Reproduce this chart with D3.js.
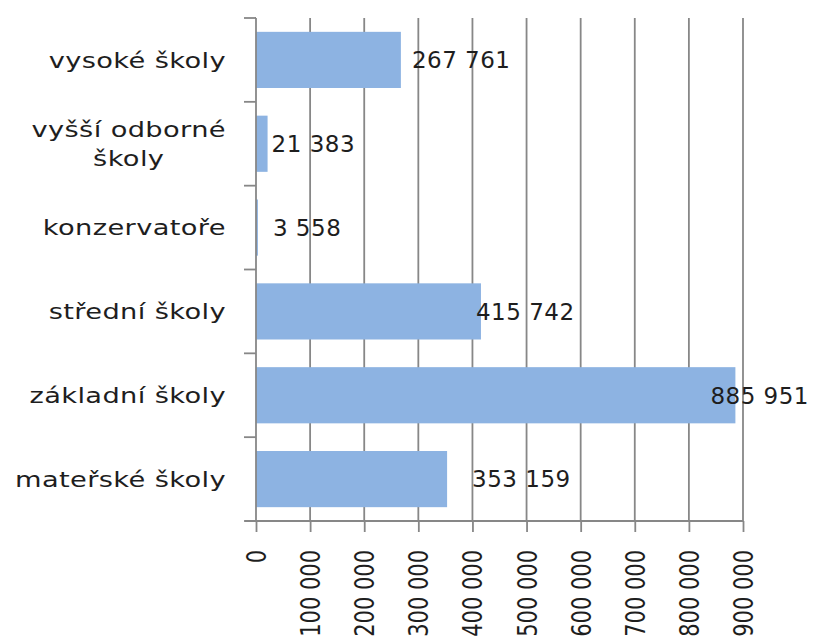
<!DOCTYPE html>
<meta charset="utf-8">
<style>
body { margin: 0; background: #fff; }
.grid line { stroke: #878787; stroke-width: 1.8; }
.axis path, .axis line { stroke: #878787; stroke-width: 1.8; }
.bar { fill: #8db3e2; }
.cat { font-family: "DejaVu Sans", sans-serif; font-size: 22px; fill: #1e1e1e; letter-spacing: 0.3px; }
.val { font-family: "DejaVu Sans", sans-serif; font-size: 23px; fill: #1e1e1e; letter-spacing: 0.5px; }
.tick-label { font-family: "DejaVu Sans", sans-serif; font-size: 21px; fill: #1e1e1e; }
</style>
<body>
<script src="https://d3js.org/d3.v7.min.js"></script>
<script>

// data (top to bottom as shown)
var categories = ["vysoké školy", "vyšší odborné školy", "konzervatoře", "střední školy", "základní školy", "mateřské školy"];
var students = [267761, 21383, 3558, 415742, 885951, 353159];
var tickValues = [0, 100000, 200000, 300000, 400000, 500000, 600000, 700000, 800000, 900000];
var tickLabels = ["0", "100 000", "200 000", "300 000", "400 000", "500 000", "600 000", "700 000", "800 000", "900 000"];

// data labels were dragged around by hand in the original, px from bar end
var labelNudge = [11, 4, 15, -5, -25, 25];

var margin = {top: 18, left: 256},
    width = 487,
    height = 503;

// the original picture is stretched sideways, so the labels are too
var stretch = 1.24;

var svg = d3.select("body").append("svg")
    .attr("width", 816)
    .attr("height", 636)
  .append("g")
    .attr("transform", "translate(" + margin.left + "," + margin.top + ")");

var x = d3.scaleLinear().domain([0, 900000]).range([0, width]);
var y = d3.scaleBand().domain(categories).range([0, height])
    .paddingInner(0.33).paddingOuter(0.165);

var fmt = d3.formatLocale({decimal: ",", thousands: " ", grouping: [3], currency: ["", ""]}).format(",d");

// vertical gridlines
svg.append("g").attr("class", "grid")
  .selectAll("line")
  .data(tickValues.slice(1))
  .enter().append("line")
    .attr("x1", function(d) { return x(d); })
    .attr("x2", function(d) { return x(d); })
    .attr("y1", 0)
    .attr("y2", height);

// bars
svg.selectAll(".bar")
    .data(students)
  .enter().append("rect")
    .attr("class", "bar")
    .attr("x", x(0))
    .attr("y", function(d, i) { return y(categories[i]); })
    .attr("width", function(d) { return x(d) - x(0); })
    .attr("height", y.bandwidth());

// x axis
var xAxis = svg.append("g")
    .attr("class", "axis")
    .attr("transform", "translate(0," + height + ")")
    .call(d3.axisBottom(x).tickValues(tickValues).tickSize(11).tickSizeOuter(0)
      .tickFormat(function(d, i) { return tickLabels[i]; }));
xAxis.select(".domain").remove();
xAxis.append("line").attr("x1", -11).attr("x2", width).attr("y1", 0).attr("y2", 0);
xAxis.selectAll("text")
    .attr("class", "tick-label")
    .attr("text-anchor", "end")
    .attr("x", -29)
    .attr("y", 0)
    .attr("dy", "0.36em")
    .attr("transform", "rotate(-90) scale(1,1.25)");
xAxis.attr("font-family", null).attr("font-size", null);

// y axis (category boundaries)
var yAxis = svg.append("g").attr("class", "axis");
yAxis.append("line").attr("x1", 0).attr("x2", 0).attr("y1", 0).attr("y2", height);
yAxis.selectAll(".ytick")
    .data(d3.range(categories.length + 1))
  .enter().append("line")
    .attr("x1", -12).attr("x2", 0)
    .attr("y1", function(i) { return i * y.step(); })
    .attr("y2", function(i) { return i * y.step(); });

// category labels, long ones wrap onto two centred lines
var maxW = 200, lx = -30 / stretch;
categories.forEach(function(c) {
  var cy = y(c) + y.bandwidth() / 2;
  var t = svg.append("text").attr("class", "cat")
      .attr("transform", "scale(" + stretch + ",1)")
      .attr("x", lx).attr("y", cy).attr("dy", "0.35em")
      .attr("text-anchor", "end").text(c);
  if (t.node().getComputedTextLength() > maxW) {
    var words = c.split(" ");
    var l1 = words.slice(0, -1).join(" "), l2 = words[words.length - 1];
    t.text(l1);
    var w1 = t.node().getComputedTextLength();
    t.text(null).attr("text-anchor", "middle");
    t.append("tspan").attr("x", lx - w1 / 2).attr("y", cy - 14.5).attr("dy", "0.35em").text(l1);
    t.append("tspan").attr("x", lx - w1 / 2).attr("y", cy + 14.5).attr("dy", "0.35em").text(l2);
  }
});

// value labels
svg.selectAll(".val")
    .data(students)
  .enter().append("text")
    .attr("class", "val")
    .attr("x", function(d, i) { return x(d) + labelNudge[i]; })
    .attr("y", function(d, i) { return y(categories[i]) + y.bandwidth() / 2; })
    .attr("dy", "0.36em")
    .text(function(d) { return fmt(d); });

</script>
</body>
